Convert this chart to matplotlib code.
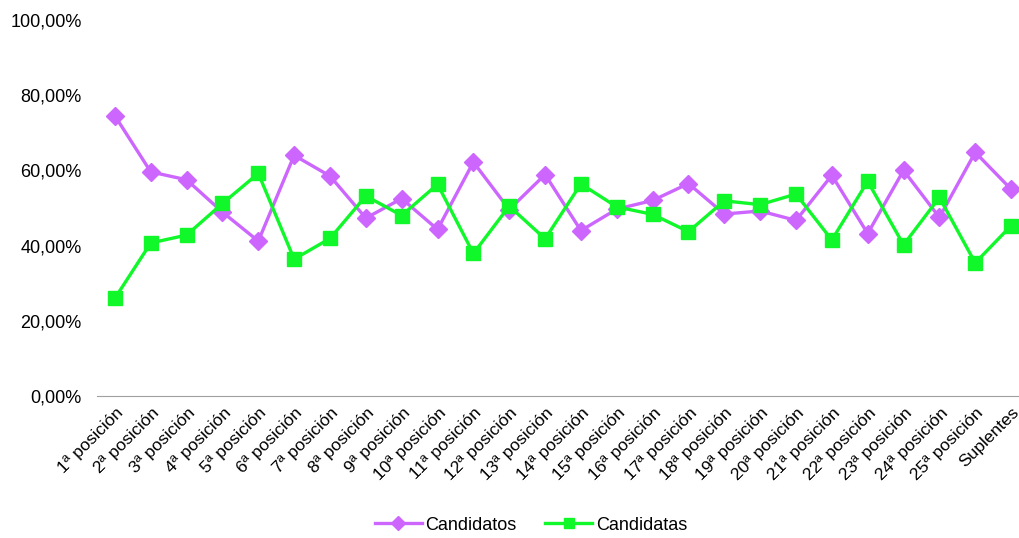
import matplotlib
matplotlib.use("Agg")
import matplotlib.pyplot as plt
from matplotlib.ticker import FuncFormatter

plt.rcParams["font.family"] = ["Liberation Sans", "DejaVu Sans"]

categories = [f"{i}ª posición" for i in range(1, 26)] + ["Suplentes"]

candidatos = [74.5, 59.6, 57.5, 48.9, 41.2, 64.0, 58.5, 47.3, 52.5, 44.3,
              62.2, 49.6, 58.9, 44.0, 49.7, 52.0, 56.5, 48.4, 49.2, 46.7,
              58.7, 43.2, 60.0, 47.5, 64.8, 55.0]
candidatas = [26.0, 40.7, 42.8, 51.2, 59.2, 36.4, 41.9, 53.2, 48.0, 56.3,
              37.9, 50.5, 41.8, 56.4, 50.3, 48.3, 43.7, 51.9, 50.9, 53.7,
              41.5, 57.1, 40.2, 52.8, 35.4, 45.3]

purple = "#CC66FF"
green = "#10F82A"

fig = plt.figure(figsize=(10.2, 5.38), dpi=100)
ax = fig.add_axes([97 / 1020, 1 - 396 / 538, 932 / 1020, 376 / 538])

x = range(len(categories))
ax.plot(x, candidatos, color=purple, lw=2.4, marker="D", ms=9.5,
        label="Candidatos")
ax.plot(x, candidatas, color=green, lw=2.4, marker="s", ms=10.5,
        label="Candidatas")

ax.set_xlim(-0.5, len(categories) - 0.5)
ax.set_ylim(0, 100)
ax.set_yticks([0, 20, 40, 60, 80, 100])
ax.yaxis.set_major_formatter(FuncFormatter(lambda v, p: f"{v:.2f}%".replace(".", ",")))
ax.set_xticks(list(x))
ax.set_xticklabels(categories, rotation=45, ha="right", rotation_mode="anchor")

for s in ["top", "right", "left"]:
    ax.spines[s].set_visible(False)
ax.spines["bottom"].set_color("#A0A0A0")
ax.tick_params(axis="both", length=0, colors="black")
ax.tick_params(axis="y", pad=11, labelsize=13)
ax.tick_params(axis="x", pad=6, labelsize=12.5)

ax.legend(loc="center", bbox_to_anchor=(531 / 1020, 1 - 525 / 538),
          bbox_transform=fig.transFigure, ncol=2, frameon=False,
          fontsize=13, handlelength=2.6, columnspacing=1.6, handletextpad=0.2,
          markerscale=0.7)

fig.savefig("out.png", dpi=100)
